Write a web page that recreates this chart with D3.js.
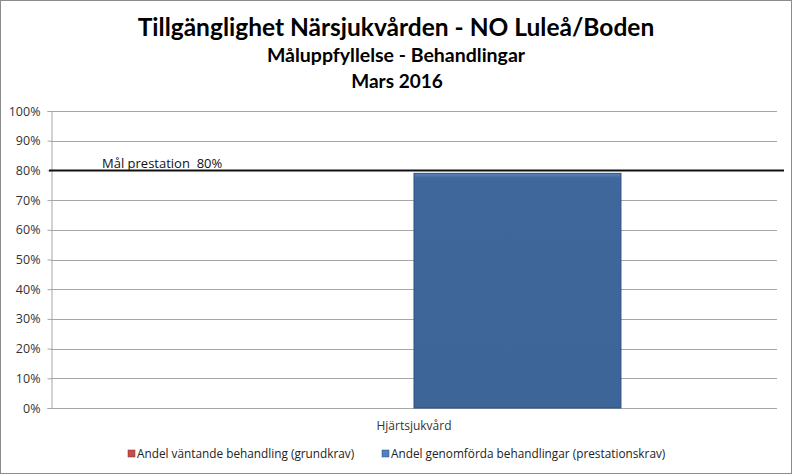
<!DOCTYPE html>
<html>
<head>
<meta charset="utf-8">
<script src="https://cdn.jsdelivr.net/npm/d3@7"></script>
<style>
  body { margin: 0; background: #fff; }
  svg { display: block; font-family: Lato, "Open Sans", sans-serif; }
</style>
</head>
<body>
<div id="chart"></div>
<script>
// data
var categories = ['Hjärtsjukvård'];
var seriesNames = ['Andel väntande behandling (grundkrav)', 'Andel genomförda behandlingar (prestationskrav)'];
var seriesColors = ['#b83a37', '#3e6699'];
var waiting = [0];
var performed = [0.79];
var target = 0.8;
var targetLabel = 'Mål prestation  80%';
var yTicks = [0, 0.1, 0.2, 0.3, 0.4, 0.5, 0.6, 0.7, 0.8, 0.9, 1.0];

var width = 792, height = 474;
var margin = {left: 51, right: 15, top: 111, bottom: 66};

var svg = d3.select('#chart')
    .append('svg')
    .attr('width', width)
    .attr('height', height);

// outer frame
svg.append('rect')
    .attr('x', 0.5).attr('y', 0.5)
    .attr('width', width - 1).attr('height', height - 1)
    .attr('fill', '#fff')
    .attr('stroke', '#8c8c8c');

// titles
svg.append('text').attr('x', 396).attr('y', 36)
    .attr('text-anchor', 'middle').attr('font-weight', 'bold').attr('font-size', 24.5)
    .text('Tillgänglighet Närsjukvården - NO Luleå/Boden');
svg.append('text').attr('x', 396).attr('y', 62)
    .attr('text-anchor', 'middle').attr('font-weight', 'bold').attr('font-size', 19.5)
    .text('Måluppfyllelse - Behandlingar');
svg.append('text').attr('x', 397).attr('y', 88)
    .attr('text-anchor', 'middle').attr('font-weight', 'bold').attr('font-size', 19)
    .text('Mars 2016');

var x = d3.scaleBand()
    .domain(categories)
    .range([margin.left, width - margin.right])
    .paddingInner(0).paddingOuter(0);

// two series side by side, gap width ~75% of a bar on each side
var x1 = d3.scaleBand()
    .domain(seriesNames)
    .range([0, x.bandwidth()])
    .paddingInner(0)
    .paddingOuter(0.754);

var y = d3.scaleLinear()
    .domain([0, 1])
    .range([height - margin.bottom, margin.top]);

// gridlines
svg.append('g')
    .selectAll('line')
    .data(yTicks)
    .enter()
    .append('line')
    .attr('x1', margin.left)
    .attr('x2', width - margin.right)
    .attr('y1', (d) => Math.round(y(d)) + 0.5)
    .attr('y2', (d) => Math.round(y(d)) + 0.5)
    .attr('stroke', '#a6a6a6')
    .attr('stroke-width', 1);

// y axis
var yAxis = d3.axisLeft(y)
    .tickValues(yTicks)
    .tickFormat(d3.format('.0%'))
    .tickSize(4)
    .tickPadding(7);
var gy = svg.append('g')
    .attr('transform', 'translate(' + (margin.left + 0.5) + ',0)')
    .call(yAxis);
gy.selectAll('path, line').attr('stroke', '#a6a6a6');
gy.selectAll('text').attr('font-size', 12.5).attr('fill', '#333')
    .attr('font-family', '"Open Sans", sans-serif');

// bars
var gradient = svg.append('defs').append('linearGradient')
    .attr('id', 'barGrad').attr('x1', 0).attr('x2', 0).attr('y1', 0).attr('y2', 1);
gradient.append('stop').attr('offset', 0).attr('stop-color', '#5b84bb');
gradient.append('stop').attr('offset', 0.02).attr('stop-color', '#3f679b');
gradient.append('stop').attr('offset', 1).attr('stop-color', '#3d6597');

var seriesData = [waiting, performed];
seriesData.forEach(function (vals, s) {
    svg.append('g')
        .selectAll('rect')
        .data(vals)
        .enter()
        .append('rect')
        .attr('x', (d, i) => x(categories[i]) + x1(seriesNames[s]))
        .attr('y', (d) => y(d))
        .attr('width', x1.bandwidth())
        .attr('height', (d) => y(0) - y(d))
        .attr('fill', s === 1 ? 'url(#barGrad)' : seriesColors[s])
        .attr('stroke', s === 1 ? '#2d5080' : '#8c2a28')
        .attr('stroke-width', 1);
});

// target line
svg.append('line')
    .attr('x1', margin.left - 2)
    .attr('x2', width - 8)
    .attr('y1', y(target))
    .attr('y2', y(target))
    .attr('stroke', '#111')
    .attr('stroke-width', 2);
svg.append('text')
    .attr('x', 102).attr('y', 168)
    .attr('font-size', 13)
    .attr('font-family', '"Open Sans", sans-serif')
    .style('white-space', 'pre')
    .attr('fill', '#111')
    .text(targetLabel);

// category label
svg.append('g')
    .selectAll('text')
    .data(categories)
    .enter()
    .append('text')
    .attr('x', (d) => x(d) + x.bandwidth() / 2)
    .attr('y', 430)
    .attr('text-anchor', 'middle')
    .attr('font-size', 12)
    .attr('font-family', '"Open Sans", sans-serif')
    .attr('fill', '#333')
    .text((d) => d);

// legend
var legendX = [128, 382];
var legend = svg.append('g')
    .selectAll('g')
    .data(seriesNames)
    .enter()
    .append('g')
    .attr('transform', (d, i) => 'translate(' + legendX[i] + ',458)');
legend.append('rect')
    .attr('x', 0).attr('y', -8)
    .attr('width', 7).attr('height', 7)
    .attr('fill', (d, i) => i === 0 ? '#c0504d' : '#4f81bd')
    .attr('stroke', (d, i) => i === 0 ? '#8c2a28' : '#2d5080')
    .attr('stroke-width', 0.5);
legend.append('text')
    .attr('x', 9).attr('y', 0)
    .attr('font-size', 11.8)
    .attr('font-family', '"Open Sans", sans-serif')
    .attr('fill', '#222')
    .text((d) => d);
</script>
</body>
</html>
